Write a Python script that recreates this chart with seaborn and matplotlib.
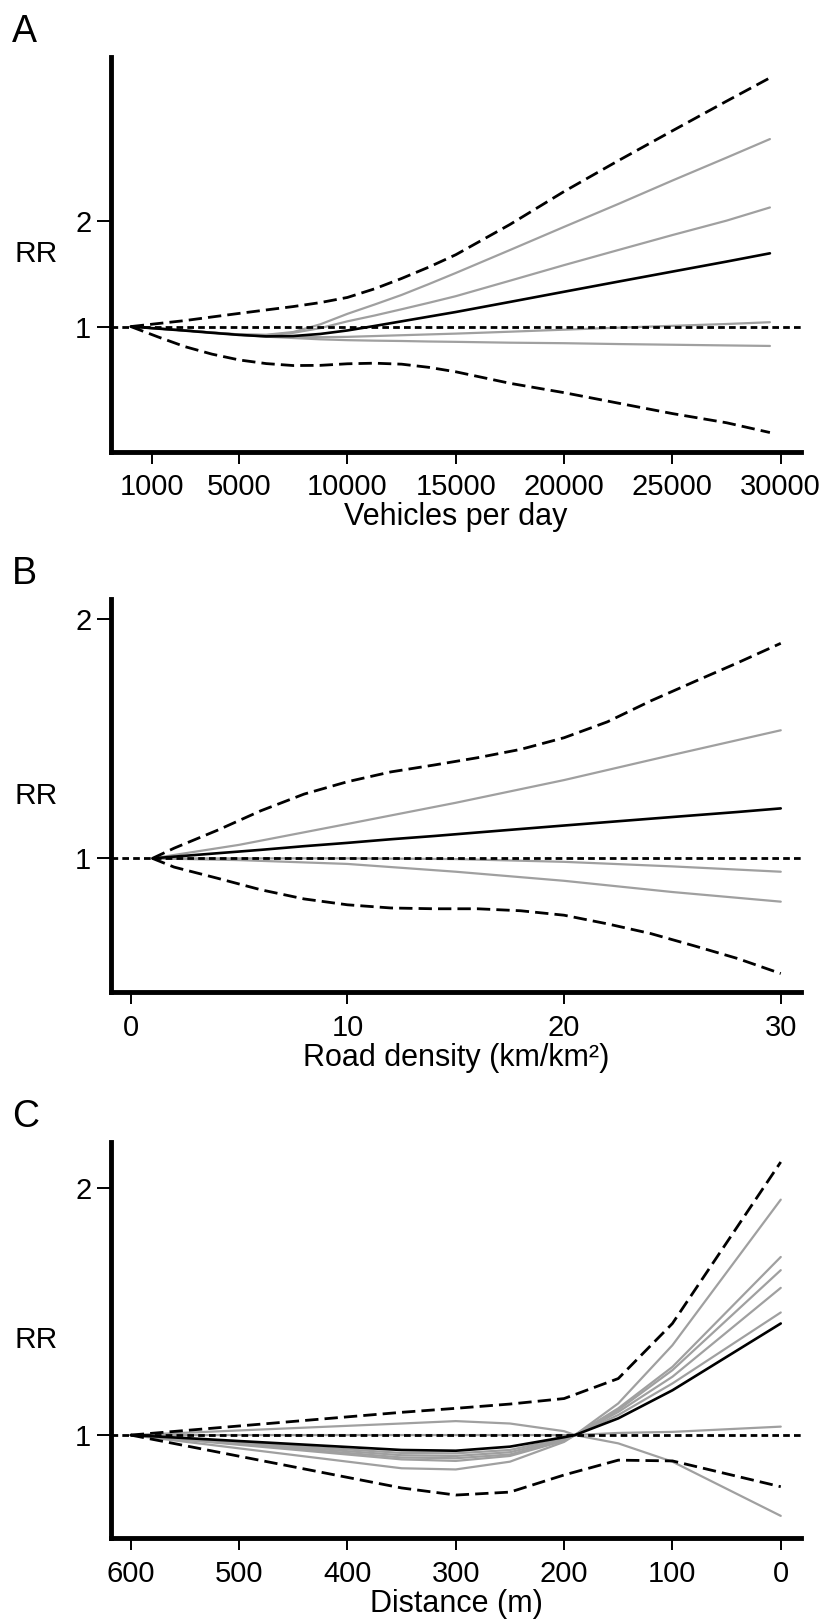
import numpy as np
import pandas as pd
import matplotlib
matplotlib.use("Agg")
import matplotlib.pyplot as plt
from matplotlib.ticker import NullLocator, FixedLocator, FixedFormatter
import seaborn as sns

# ---------------- Panel A: traffic volume (vehicles per day) ----------------
veh_x = [0, 1250, 2500, 3750, 5000, 6250, 7500, 8750, 10000, 11250, 12500, 13750,
         15000, 17500, 20000, 22500, 25000, 27500, 29500]
veh_rr = [1.0, 0.987, 0.974, 0.96, 0.947, 0.938, 0.94, 0.953, 0.975, 1.004, 1.035, 1.067,
          1.10, 1.175, 1.256, 1.342, 1.433, 1.53, 1.615]
veh_upper = [1.0, 1.02, 1.04, 1.065, 1.09, 1.115, 1.14, 1.17, 1.21, 1.28, 1.37, 1.475,
             1.60, 1.95, 2.42, 2.96, 3.60, 4.37, 5.09]
veh_lower = [1.0, 0.935, 0.877, 0.835, 0.804, 0.785, 0.775, 0.776, 0.784, 0.787, 0.782, 0.766,
             0.744, 0.69, 0.649, 0.606, 0.566, 0.533, 0.50]
veh_sens = [
    [1.0, 0.987, 0.975, 0.962, 0.95, 0.948, 0.965, 1.015, 1.087, 1.155, 1.23, 1.32,
     1.42, 1.65, 1.92, 2.23, 2.60, 3.02, 3.41],
    [1.0, 0.987, 0.975, 0.962, 0.95, 0.945, 0.96, 0.99, 1.035, 1.075, 1.12, 1.168,
     1.22, 1.35, 1.495, 1.65, 1.82, 2.00, 2.18],
    [1.0, 0.987, 0.975, 0.961, 0.948, 0.938, 0.935, 0.933, 0.935, 0.94, 0.945, 0.95,
     0.955, 0.967, 0.98, 0.993, 1.005, 1.017, 1.029],
    [1.0, 0.987, 0.975, 0.961, 0.948, 0.936, 0.928, 0.92, 0.915, 0.912, 0.91, 0.907,
     0.905, 0.90, 0.897, 0.892, 0.888, 0.884, 0.881],
]
veh_ticks = [1000, 5000, 10000, 15000, 20000, 25000, 30000]

# ---------------- Panel B: road density (km/km2) ----------------
dens_x = [1, 2, 4, 6, 8, 10, 12, 14, 16, 18, 20, 22, 24, 26, 28, 30]
dens_rr = [1.0, 1.005, 1.015, 1.025, 1.036, 1.046, 1.057, 1.067, 1.078, 1.089, 1.10,
           1.111, 1.122, 1.133, 1.144, 1.156]
dens_upper = [1.0, 1.03, 1.085, 1.148, 1.205, 1.249, 1.285, 1.311, 1.339, 1.372, 1.419,
              1.486, 1.579, 1.669, 1.763, 1.866]
dens_lower = [1.0, 0.975, 0.944, 0.913, 0.889, 0.874, 0.866, 0.864, 0.864, 0.859, 0.848,
              0.827, 0.804, 0.776, 0.748, 0.716]
dens_sens_x = [1, 5, 10, 15, 20, 25, 30]
dens_sens = [
    [1.0, 1.04, 1.105, 1.175, 1.255, 1.35, 1.45],
    [1.0, 1.0, 1.0, 0.998, 0.99, 0.977, 0.962],
    [1.0, 0.995, 0.984, 0.962, 0.937, 0.907, 0.882],
]
dens_ticks = [0, 10, 20, 30]

# ---------------- Panel C: distance to road (m) ----------------
dist_x = [600, 350, 300, 250, 200, 190, 150, 100, 0]
dist_rr = [1.0, 0.959, 0.957, 0.968, 0.994, 1.0, 1.048, 1.134, 1.368]
dist_ci_x = [600, 350, 300, 250, 200, 150, 100, 0]
dist_upper = [1.0, 1.066, 1.078, 1.091, 1.108, 1.172, 1.368, 2.153]
dist_lower = [1.0, 0.862, 0.845, 0.852, 0.894, 0.932, 0.930, 0.865]
dist_sens = [
    [1.0, 0.911, 0.908, 0.928, 0.981, 1.0, 1.093, 1.287, 1.937],
    [1.0, 0.934, 0.930, 0.943, 0.984, 1.0, 1.078, 1.211, 1.649],
    [1.0, 0.939, 0.937, 0.947, 0.986, 1.0, 1.073, 1.200, 1.589],
    [1.0, 0.945, 0.943, 0.953, 0.988, 1.0, 1.067, 1.178, 1.512],
    [1.0, 0.951, 0.950, 0.959, 0.991, 1.0, 1.058, 1.156, 1.411],
    [1.0, 1.0, 1.0, 1.0, 1.0, 1.0, 1.006, 1.009, 1.024],
    [1.0, 1.033, 1.040, 1.033, 1.011, 1.0, 0.977, 0.928, 0.797],
]
dist_ticks = [600, 500, 400, 300, 200, 100, 0]

# ---------------- styling ----------------
sns.set_theme(style="ticks")
plt.rcParams["font.family"] = ["Liberation Sans", "DejaVu Sans"]

GRAY = "#a0a0a0"
BLACK = "black"
LW_MAIN = 1.9
LW_CI = 2.0
LW_GRAY = 1.6
DASH_CI = (0, (4.8, 2.2))
DOT_REF = (0, (2.4, 1.5))
TICK_FS = 21
LABEL_FS = 22
RR_FS = 21.5
LETTER_FS = 27

fig = plt.figure(figsize=(8.24, 16.22), dpi=100)

panels = [
    dict(letter="A", rect=[0.1353, 0.7215, 0.8364, 0.2433], xlim=(-890, 30920),
         ylim=(0.441, 5.83), yticks=[1, 2], xticks=veh_ticks,
         xlabel="Vehicles per day"),
    dict(letter="B", rect=[0.1353, 0.3882, 0.8364, 0.2423], xlim=(-0.89, 30.92),
         ylim=(0.678, 2.12), yticks=[1, 2], xticks=dens_ticks,
         xlabel="Road density (km/km²)"),
    dict(letter="C", rect=[0.1353, 0.0515, 0.8364, 0.2443], xlim=(617.8, -18.4),
         ylim=(0.748, 2.276), yticks=[1, 2], xticks=dist_ticks,
         xlabel="Distance (m)"),
]

series = [
    dict(x=veh_x, rr=veh_rr, lo=veh_lower, hi=veh_upper, ci_x=veh_x,
         sens_x=veh_x, sens=veh_sens),
    dict(x=dens_x, rr=dens_rr, lo=dens_lower, hi=dens_upper, ci_x=dens_x,
         sens_x=dens_sens_x, sens=dens_sens),
    dict(x=dist_x, rr=dist_rr, lo=dist_lower, hi=dist_upper, ci_x=dist_ci_x,
         sens_x=dist_x, sens=dist_sens),
]


def line(ax, x, y, **kw):
    sns.lineplot(x=np.asarray(x, float), y=np.asarray(y, float), ax=ax,
                 estimator=None, sort=False, errorbar=None, legend=False, **kw)


for p, s in zip(panels, series):
    ax = fig.add_axes(p["rect"])
    ax.set_yscale("log", base=2)

    # sensitivity curves in gray
    for ys in s["sens"]:
        line(ax, s["sens_x"], ys, color=GRAY, linewidth=LW_GRAY)
    # confidence limits
    line(ax, s["ci_x"], s["hi"], color=BLACK, linewidth=LW_CI, linestyle=DASH_CI)
    line(ax, s["ci_x"], s["lo"], color=BLACK, linewidth=LW_CI, linestyle=DASH_CI)
    # main estimate
    line(ax, s["x"], s["rr"], color=BLACK, linewidth=LW_MAIN)
    # null reference
    ax.axhline(1.0, color=BLACK, linewidth=LW_CI, linestyle=DOT_REF, zorder=5)

    ax.set_xlim(*p["xlim"])
    ax.set_ylim(*p["ylim"])
    ax.yaxis.set_major_locator(FixedLocator(p["yticks"]))
    ax.yaxis.set_major_formatter(FixedFormatter([str(v) for v in p["yticks"]]))
    ax.yaxis.set_minor_locator(NullLocator())
    ax.set_xticks(p["xticks"])
    ax.set_xticklabels([str(v) for v in p["xticks"]])
    ax.xaxis.set_minor_locator(NullLocator())

    for side in ("top", "right"):
        ax.spines[side].set_visible(False)
    for side in ("left", "bottom"):
        ax.spines[side].set_linewidth(3.5)
        ax.spines[side].set_color(BLACK)
        ax.spines[side].set_capstyle("projecting")

    ax.tick_params(axis="y", direction="out", length=10, width=1.4, pad=4.5,
                   labelsize=TICK_FS, colors=BLACK)
    ax.tick_params(axis="x", direction="out", length=8.5, width=1.4, pad=7,
                   labelsize=TICK_FS, colors=BLACK)

    ax.set_xlabel(p["xlabel"], fontsize=LABEL_FS, labelpad=0.5, color=BLACK)
    ax.set_ylabel("RR", fontsize=RR_FS, rotation=0, ha="center", va="center",
                  color=BLACK)
    ax.yaxis.set_label_coords(-0.109, 0.5)
    ax.set_facecolor("white")

    # panel letter above the axes
    top = p["rect"][1] + p["rect"][3]
    fig.text(12 / 824, top + 15.5 / 1622, p["letter"], fontsize=LETTER_FS,
             ha="left", va="baseline", color=BLACK)

fig.savefig("out.png", dpi=100, facecolor="white")
